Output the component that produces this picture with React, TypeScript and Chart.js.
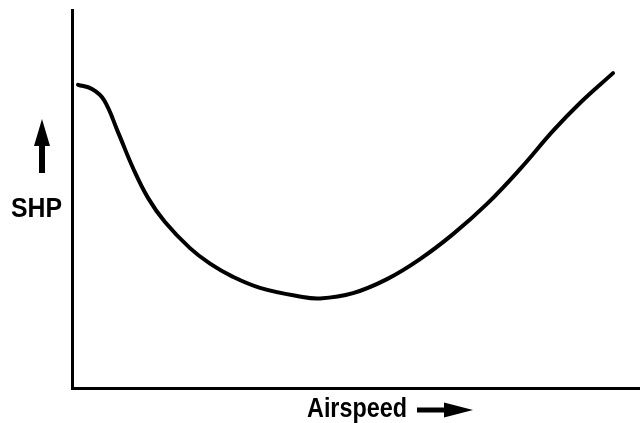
import React, { useEffect, useRef } from "react";
import { Chart, registerables } from "chart.js";

Chart.register(...registerables);

// Airspeed (relative units, 0..100) and shaft horsepower (relative units, 0..100)
const airspeed = [1.06, 3.52, 5.63, 8.1, 10.74, 13.38, 16.37, 20.77, 24.3, 28.35, 33.1, 40.14, 43.66, 49.47, 55.46, 61.27, 67.08, 73.06, 78.87, 84.68, 89.44, 95.25];
const shp = [80.2, 79.1, 76.2, 67.7, 58.2, 50.3, 43.9, 37.0, 32.9, 29.4, 26.5, 24.2, 23.7, 25.1, 28.8, 34.1, 40.7, 48.7, 57.9, 68.0, 75.4, 83.3];
const yLabel = "SHP";
const xLabel = "Airspeed";

function drawFit(ctx: CanvasRenderingContext2D, text: string, x: number, y: number, w: number) {
  const m = ctx.measureText(text).width;
  ctx.save();
  ctx.translate(x, y);
  ctx.scale(w / m, 1);
  ctx.fillText(text, 0, 0);
  ctx.restore();
}

const labelsPlugin = {
  id: "axisLabels",
  afterDraw(chart: any) {
    const ctx: CanvasRenderingContext2D = chart.ctx;
    const a = chart.chartArea;
    ctx.save();
    ctx.fillStyle = "#000";
    ctx.font = 'bold 27px "Liberation Sans"';
    ctx.textBaseline = "alphabetic";

    // SHP label
    drawFit(ctx, yLabel, a.left - 61, a.bottom - 171, 51);

    // up arrow
    const ux = a.left - 30;
    ctx.fillRect(ux - 3, a.bottom - 245, 6, 30);
    ctx.beginPath();
    ctx.moveTo(ux, a.bottom - 269);
    ctx.lineTo(ux + 8, a.bottom - 242);
    ctx.lineTo(ux - 8, a.bottom - 242);
    ctx.closePath();
    ctx.fill();

    // Airspeed label
    drawFit(ctx, xLabel, 307, a.bottom + 29, 100);

    // right arrow
    const ry = a.bottom + 22;
    ctx.fillRect(417, ry - 2.5, 30, 5);
    ctx.beginPath();
    ctx.moveTo(473, ry);
    ctx.lineTo(444, ry - 7.5);
    ctx.lineTo(444, ry + 7.5);
    ctx.closePath();
    ctx.fill();
    ctx.restore();
  },
};

export default function App() {
  const ref = useRef<HTMLCanvasElement | null>(null);
  useEffect(() => {
    document.body.style.margin = "0";
    const canvas = ref.current;
    if (!canvas) return;
    const axis = {
      type: "linear" as const,
      min: 0,
      max: 100,
      ticks: { display: false },
      grid: { display: false },
      border: { display: true, color: "#000", width: 3 },
    };
    const chart = new Chart(canvas, {
      type: "line",
      data: {
        datasets: [
          {
            data: airspeed.map((x, i) => ({ x, y: shp[i] })),
            borderColor: "#000",
            borderWidth: 4,
            pointRadius: 0,
            tension: 0.4,
            borderCapStyle: "round",
            borderJoinStyle: "round",
            fill: false,
          },
        ],
      },
      options: {
        animation: false,
        responsive: false,
        devicePixelRatio: 1,
        layout: { padding: { left: 64, top: 10, right: 0, bottom: 27 } },
        plugins: { legend: { display: false }, tooltip: { enabled: false } },
        scales: { x: axis, y: axis },
      },
      plugins: [labelsPlugin],
    });
    return () => chart.destroy();
  }, []);
  return <canvas ref={ref} width={640} height={423} style={{ display: "block", background: "#fff" }} />;
}
